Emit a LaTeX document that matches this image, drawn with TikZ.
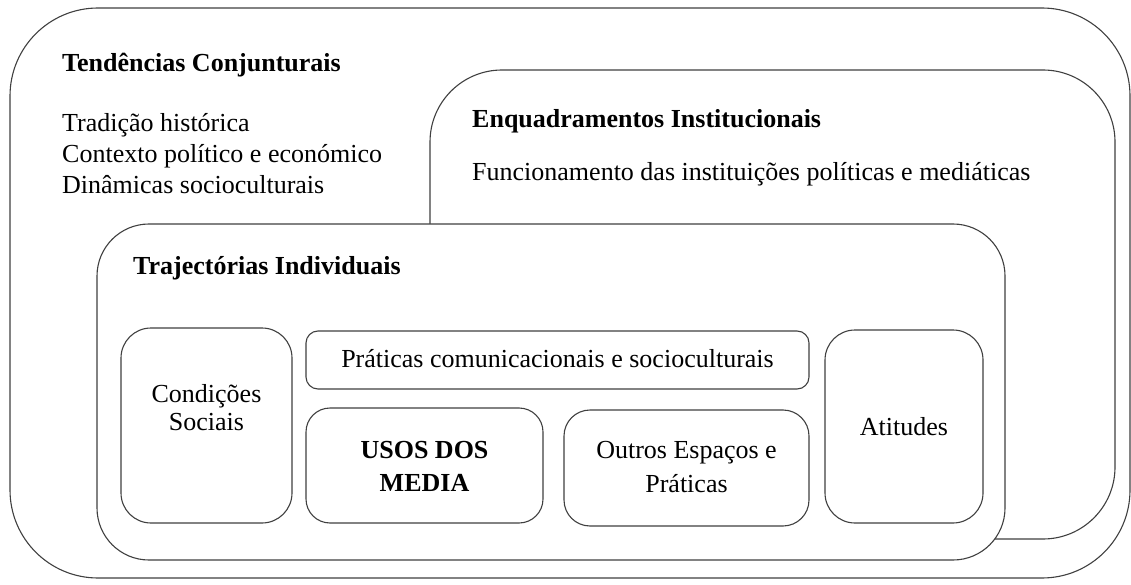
\documentclass[tikz,border=0pt]{standalone}
\usepackage{fontspec}
\setmainfont{Liberation Serif}
\begin{document}
\begin{tikzpicture}[x=1pt,y=-1pt,
  frame/.style={draw=black!75, line width=1.1pt, fill=white},
  txt/.style={inner sep=0pt, font=\fontsize{26}{31}\selectfont, text=black},
  btxt/.style={txt, font=\fontsize{26}{31}\selectfont\bfseries},
  lw/.style={anchor=base west},
  lc/.style={anchor=base}]
\useasboundingbox (0,0) rectangle (1131,585);
% containers
\draw[frame, rounded corners=88] (10,8) rectangle (1130,578);
\draw[frame, rounded corners=72] (430,70) rectangle (1115,539);
\draw[frame, rounded corners=52] (97,224) rectangle (1005,560);
% inner boxes
\node[frame, rounded corners=30, minimum width=171pt, minimum height=195pt] (cond) at (206.5,425.5) {};
\node[frame, rounded corners=12, minimum width=503pt, minimum height=58pt] (prat) at (557.5,360) {};
\node[frame, rounded corners=24, minimum width=237pt, minimum height=115pt] (usos) at (424.5,465.5) {};
\node[frame, rounded corners=26, minimum width=245pt, minimum height=116pt] (outros) at (686.5,468) {};
\node[frame, rounded corners=30, minimum width=158pt, minimum height=193pt] (atit) at (904,426.5) {};
% texts
\node[btxt, lw] (t1) at (62,72) {Tendências Conjunturais};
\node[txt, lw] (t2) at (62,132) {Tradição histórica};
\node[txt, lw] (t3) at (62,163) {Contexto político e económico};
\node[txt, lw] (t4) at (62,194) {Dinâmicas socioculturais};
\node[btxt, lw] (e1) at (472,128) {Enquadramentos Institucionais};
\node[txt, lw] (e2) at (472,181) {Funcionamento das instituições políticas e mediáticas};
\node[btxt, lw] (tr) at (133,274) {Trajectórias Individuais};
\node[txt, lc] (c1) at (206.5,402) {Condições};
\node[txt, lc] (c2) at (206.5,430) {Sociais};
\node[txt, lc] (p1) at (557.5,367) {Práticas comunicacionais e socioculturais};
\node[btxt, lc] (u1) at (424.5,458) {USOS DOS};
\node[btxt, lc] (u2) at (424.5,491) {MEDIA};
\node[txt, lc] (o1) at (686.5,458) {Outros Espaços e};
\node[txt, lc] (o2) at (686.5,492) {Práticas};
\node[txt, lc] (a1) at (904,435) {Atitudes};
\end{tikzpicture}
\end{document}
